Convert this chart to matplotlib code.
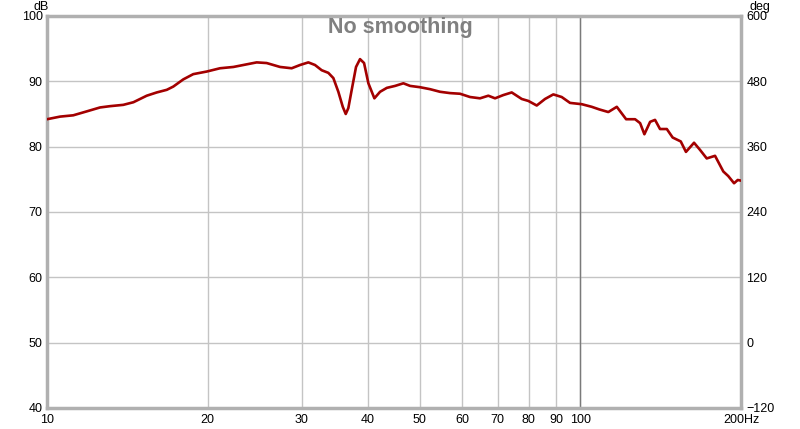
import matplotlib
matplotlib.use("Agg")
import matplotlib.pyplot as plt
from matplotlib.ticker import FixedLocator, NullLocator

# frequency response
freq_hz = [10.0, 10.58, 11.20, 11.87, 12.57, 13.13, 13.90, 14.52, 15.38,
           16.06, 16.77, 17.25, 18.01, 18.80, 19.93, 21.10, 22.36, 23.34,
           24.72, 25.81, 27.35, 28.75, 29.81, 30.90, 31.80, 32.73, 33.68,
           34.42, 35.17, 35.85, 36.31, 36.72, 37.26, 37.96, 38.62, 39.30,
           40.04, 41.09, 42.11, 43.36, 44.93, 46.57, 47.94, 50.04, 52.25,
           54.55, 56.95, 59.47, 62.09, 64.83, 67.20, 69.17, 71.70, 74.34,
           77.62, 79.87, 82.81, 85.83, 88.96, 92.24, 95.61, 100.6, 105.0,
           108.5, 112.8, 117.0, 121.8, 126.6, 129.4, 131.8, 135.1, 138.0,
           141.0, 145.2, 148.9, 154.2, 157.7, 163.3, 167.6, 172.5, 178.8,
           185.3, 189.3, 194.1, 197.2, 200.0]
spl_db = [84.2, 84.6, 84.8, 85.4, 86.0, 86.2, 86.4, 86.8, 87.8,
          88.3, 88.7, 89.2, 90.3, 91.1, 91.5, 92.0, 92.2, 92.5,
          92.9, 92.8, 92.2, 92.0, 92.5, 92.9, 92.5, 91.7, 91.3,
          90.5, 88.4, 86.1, 85.0, 85.9, 88.7, 92.2, 93.4, 92.8,
          89.7, 87.4, 88.4, 89.0, 89.3, 89.7, 89.3, 89.1, 88.8,
          88.4, 88.2, 88.1, 87.6, 87.4, 87.8, 87.4, 87.9, 88.3,
          87.3, 87.0, 86.3, 87.3, 88.0, 87.6, 86.7, 86.5, 86.1,
          85.7, 85.3, 86.1, 84.2, 84.2, 83.6, 81.9, 83.8, 84.1,
          82.7, 82.7, 81.4, 80.8, 79.2, 80.6, 79.5, 78.2, 78.6,
          76.2, 75.5, 74.4, 74.9, 74.8]

x_ticks = [10, 20, 30, 40, 50, 60, 70, 80, 90, 100, 200]
x_labels = ["10", "20", "30", "40", "50", "60", "70", "80", "90", "100", "200Hz"]
db_ticks = [40, 50, 60, 70, 80, 90, 100]
deg_ticks = [-120, 0, 120, 240, 360, 480, 600]

plt.rcParams['font.family'] = ['Liberation Sans', 'DejaVu Sans']

fig = plt.figure(figsize=(8, 4.29), dpi=100)
ax = fig.add_axes([47 / 800, 21 / 429, 694 / 800, 392 / 429])

ax.set_xscale('log')
ax.set_xlim(10, 200)
ax.set_ylim(40, 100)
ax.xaxis.set_major_locator(FixedLocator(x_ticks))
ax.xaxis.set_minor_locator(NullLocator())
ax.set_xticklabels(x_labels)
ax.set_yticks(db_ticks)

ax.grid(True, color='#c4c4c4', linewidth=1.0)
ax.set_axisbelow(True)
ax.axvline(100, color='#7a7a7a', linewidth=1.0, zorder=1)

ax.plot(freq_hz, spl_db, color='#a30000', linewidth=1.9, zorder=3,
        solid_joinstyle='round', solid_capstyle='round')

for side in ['left', 'right', 'top', 'bottom']:
    ax.spines[side].set_color('#b0b0b0')
    ax.spines[side].set_linewidth(2.5)

ax.tick_params(axis='both', length=0, labelsize=9, colors='black')
ax.tick_params(axis='x', pad=4.5)
ax.tick_params(axis='y', pad=3)

ax2 = ax.twinx()
ax2.set_ylim(-120, 600)
ax2.set_yticks(deg_ticks)
ax2.tick_params(axis='y', length=0, labelsize=9, pad=4)
for side in ['left', 'right', 'top', 'bottom']:
    ax2.spines[side].set_visible(False)

fig.text(33 / 800, 1 - 7 / 429, "dB", fontsize=9, ha='left', va='center')
fig.text(750 / 800, 1 - 7 / 429, "deg", fontsize=9, ha='left', va='center')

# title sits inside the plot frame, near the top
fig.text(400 / 800, 1 - 27 / 429, "No smoothing", ha='center', va='center',
         fontsize=15.5, fontweight='bold', color='#808080')

fig.savefig("out.png", dpi=100)
